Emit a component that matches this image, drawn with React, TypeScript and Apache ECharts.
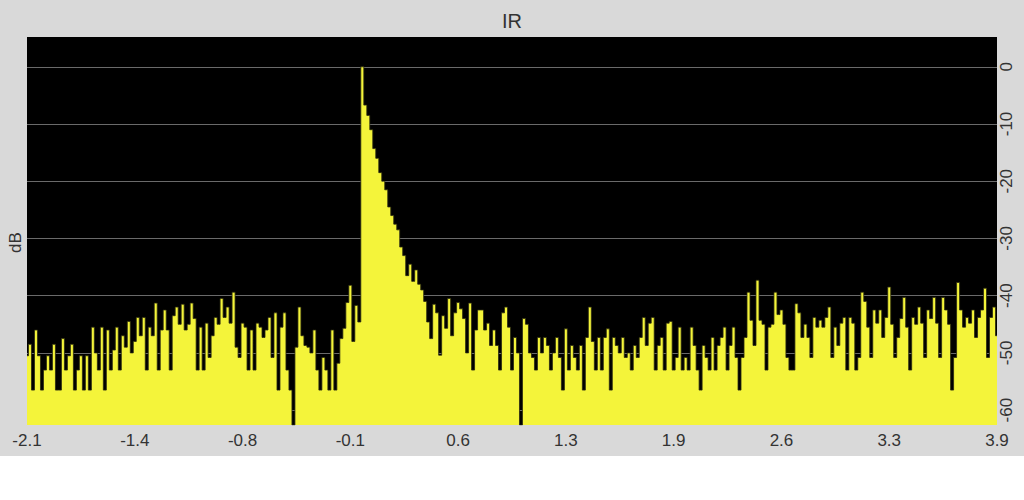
import { useEffect, useRef } from 'react';
import * as echarts from 'echarts';

// x tick labels (s), spread evenly over the samples
const xLabels = ['-2.1', '-1.4', '-0.8', '-0.1', '0.6', '1.3', '1.9', '2.6', '3.3', '3.9'];
const SAMPLES_PER_LABEL = 36;

// y tick values (dB)
const yTicks = [0, -10, -20, -30, -40, -50, -60];

// impulse response level in dB
const dbPart1 = [
  -50.5, -48.5, -56.5, -46, -50.5, -56.5, -53, -50.5, -53, -48.5,
  -56.5, -56.5, -47.5, -53, -50.5, -48.5, -56.5, -53, -50.5, -56.5,
  -50.5, -56.5, -45.5, -50, -53, -45.5, -56.5, -46, -53, -49.5,
  -45.5, -53, -47, -49, -44.5, -50, -48, -43.8, -47, -43.8,
  -53, -45.5, -47, -41.3, -53, -46, -42.5, -46, -53, -43.5,
  -42, -45, -41.5, -46, -45, -41.3, -44, -53, -45.5, -53,
  -44.8, -50.8, -47, -43.8, -45, -40.5, -43.8, -42, -44.8, -39.4,
  -49, -50.8, -44.8, -45.5, -53, -46, -53, -44.8, -45.5, -47.3,
  -46, -43.8, -50.8, -43, -56.5, -45.5, -43, -53, -56.5, -62.6,
  -49, -42, -47, -48.7, -49, -50, -46, -53, -56.5, -50.8,
  -53, -56.5, -46, -56.5, -51.8, -47.5, -45.7, -41.2, -38.2, -48,
  -41.7, -44.6,
];

const dbPeak = [
  0, -6.7, -8.5, -11, -14.3, -16, -18.5, -20, -21.5, -24.5,
  -26, -27.5, -28.5, -31.5, -33, -36.5, -34.5, -37.5, -35.5, -38,
  -39, -41, -44.6, -47.5, -41.5, -43, -50.4, -43.5, -45.7, -40.5,
  -47, -43, -41.2,
];

const dbPart2 = [
  -42.3, -44, -50, -41.3, -53, -46, -42.5, -42.5, -46, -44.8,
  -48.7, -46, -48.7, -53, -43, -42, -45.5, -53, -47.3, -50,
  -62.6, -44, -45, -50, -50.8, -53, -47.3, -50, -47.3, -48.7,
  -53, -50, -47.3, -50.8, -56.5, -45.8, -53, -48.7, -50.8, -53,
  -48.7, -56.5, -47.3, -42, -48, -53, -47.3, -53, -47.3, -45.8,
  -56.5, -47.3, -48.7, -50, -47.3, -50.8, -50, -53, -48.7, -50.8,
  -47.3, -43.8, -48.7, -44.8, -43.8, -53, -48.7, -47.3, -53, -44.8,
  -44.5, -53, -50.8, -45.5, -53, -50.8, -53, -45.5, -48.7, -53,
  -56.5, -48.7, -50.8, -53, -47.3, -53, -48.7, -47.3, -45.5, -53,
  -48.7, -45.5, -50.8, -56.5, -50.8, -47.3, -39.4, -44.3, -48.7, -37.3,
  -44.3, -45, -53, -45.5, -45, -39.4, -43.3, -42.5, -45, -50.8,
  -53, -53, -41.4, -43, -47.3, -45, -47.3, -50.8, -43.8, -45.5,
];

const dbPart3 = [
  -44.3, -45.5, -43.8, -42, -50.8, -45.5, -48.7, -44.8, -43.8, -53,
  -43.8, -44.8, -53, -50.8, -39.4, -41, -45.5, -50.8, -42.5, -44.8,
  -42.5, -47.3, -43.8, -38.5, -45, -50.8, -47.3, -44, -40.3, -45.5,
  -53, -43.8, -45, -42, -44.8, -50.8, -42.5, -44, -40.3, -44.8,
  -50.8, -40.3, -42.5, -45, -56.5, -50.8, -37.7, -42.5, -45.5, -43.8,
  -44.8, -42.5, -47.3, -43.8, -42.5, -38.7, -50.8, -43.8, -42, -47,
  -47,
];

const dbValues = [...dbPart1, ...dbPeak, ...dbPart2, ...dbPart3];

const Y_MIN = -62.6;
const Y_MAX = 5.2;

export default function App() {
  const chartRef = useRef<HTMLDivElement>(null);

  useEffect(() => {
    if (!chartRef.current) return;
    const chart = echarts.init(chartRef.current, undefined, { renderer: 'svg' });

    const lastIndex = (xLabels.length - 1) * SAMPLES_PER_LABEL;
    const seriesData = dbValues.slice(0, lastIndex + 1).map((v, i) => [i, v]);

    const option: echarts.EChartsOption = {
      animation: false,
      backgroundColor: '#d9d9d9',
      textStyle: { fontFamily: 'Liberation Sans, Arial, sans-serif' },
      title: {
        text: 'IR',
        left: 'center',
        top: 6,
        textStyle: { fontSize: 20, fontWeight: 'normal', color: '#333' }
      },
      graphic: [
        {
          type: 'text',
          x: 7,
          y: 253,
          rotation: Math.PI / 2,
          style: {
            text: 'dB',
            fill: '#333',
            fontSize: 17,
            fontFamily: 'Liberation Sans, Arial, sans-serif'
          }
        }
      ],
      grid: {
        left: 27,
        right: 27,
        top: 37,
        bottom: 31,
        show: true,
        backgroundColor: '#000',
        borderWidth: 0
      },
      xAxis: {
        type: 'value',
        min: 0,
        max: lastIndex,
        interval: SAMPLES_PER_LABEL,
        axisLine: { show: false },
        axisTick: { show: false },
        splitLine: { show: false },
        axisLabel: {
          color: '#333',
          fontSize: 17,
          margin: 7,
          showMinLabel: true,
          showMaxLabel: true,
          formatter: (v: number) => xLabels[Math.round(v / SAMPLES_PER_LABEL)] ?? ''
        }
      },
      yAxis: {
        type: 'value',
        position: 'right',
        min: Y_MIN,
        max: Y_MAX,
        axisLine: { show: false },
        axisTick: { show: false, customValues: yTicks },
        splitLine: { show: true, lineStyle: { color: '#6a6a6a', width: 1 } },
        axisLabel: {
          customValues: yTicks,
          rotate: 90,
          color: '#333',
          fontSize: 17,
          margin: 1
        }
      },
      series: [
        {
          type: 'line',
          step: 'middle',
          data: seriesData,
          symbol: 'none',
          lineStyle: { color: '#2a2a10', width: 0.8 },
          areaStyle: { color: '#f4f43a', opacity: 1, origin: 'start' }
        }
      ]
    };

    chart.setOption(option);
    return () => {
      chart.dispose();
    };
  }, []);

  return (
    <div
      ref={chartRef}
      style={{ position: 'fixed', left: 0, top: 0, width: 1024, height: 456 }}
    />
  );
}
